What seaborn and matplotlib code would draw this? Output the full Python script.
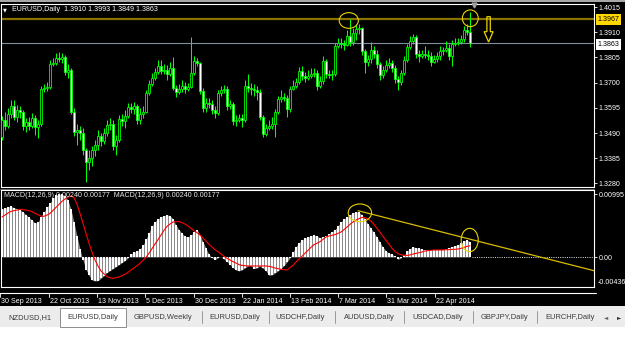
import numpy as np
import pandas as pd
import matplotlib
matplotlib.use("Agg")
import matplotlib.pyplot as plt
import seaborn as sns
from matplotlib.patches import Rectangle, Ellipse, Polygon
from matplotlib.lines import Line2D
from matplotlib.transforms import blended_transform_factory

# ---------------- data ----------------
symbol = "EURUSD"
timeframe = "Daily"
last_ohlc = [1.3910, 1.3993, 1.3849, 1.3863]

opens = [1.3473, 1.3544, 1.3519, 1.3569, 1.3603, 1.3557, 1.3586, 1.3578, 1.3519, 1.3536,
         1.3519, 1.3553, 1.3515, 1.3528, 1.3673, 1.3678, 1.3682, 1.3778, 1.3782, 1.3803,
         1.3798, 1.3807, 1.3744, 1.3753, 1.3578, 1.3494, 1.3503, 1.3490, 1.3419, 1.3369,
         1.3386, 1.3419, 1.3440, 1.3478, 1.3457, 1.3490, 1.3523, 1.3528, 1.3436, 1.3461,
         1.3548, 1.3540, 1.3561, 1.3598, 1.3590, 1.3603, 1.3544, 1.3569, 1.3578, 1.3657,
         1.3694, 1.3719, 1.3744, 1.3769, 1.3748, 1.3753, 1.3736, 1.3761, 1.3678, 1.3661,
         1.3673, 1.3686, 1.3673, 1.3682, 1.3740, 1.3790, 1.3782, 1.3665, 1.3594, 1.3615,
         1.3611, 1.3586, 1.3573, 1.3657, 1.3669, 1.3673, 1.3603, 1.3611, 1.3540, 1.3544,
         1.3553, 1.3544, 1.3686, 1.3678, 1.3673, 1.3669, 1.3661, 1.3557, 1.3486, 1.3511,
         1.3519, 1.3528, 1.3578, 1.3632, 1.3640, 1.3636, 1.3590, 1.3673, 1.3686, 1.3703,
         1.3748, 1.3728, 1.3719, 1.3728, 1.3736, 1.3740, 1.3686, 1.3707, 1.3790, 1.3736,
         1.3732, 1.3736, 1.3853, 1.3865, 1.3861, 1.3857, 1.3894, 1.3869, 1.3907, 1.3923,
         1.3928, 1.3832, 1.3786, 1.3798, 1.3836, 1.3819, 1.3778, 1.3732, 1.3753, 1.3773,
         1.3782, 1.3761, 1.3715, 1.3703, 1.3740, 1.3794, 1.3848, 1.3873, 1.3890, 1.3819,
         1.3811, 1.3819, 1.3815, 1.3811, 1.3786, 1.3798, 1.3811, 1.3832, 1.3836, 1.3844,
         1.3811, 1.3861, 1.3865, 1.3869, 1.3882, 1.3919, 1.3910]

highs = [1.3561, 1.3578, 1.3594, 1.3628, 1.3628, 1.3607, 1.3603, 1.3586, 1.3553, 1.3557,
         1.3573, 1.3565, 1.3544, 1.3686, 1.3694, 1.3703, 1.3794, 1.3803, 1.3823, 1.3828,
         1.3823, 1.3815, 1.3778, 1.3761, 1.3594, 1.3528, 1.3519, 1.3511, 1.3428, 1.3419,
         1.3436, 1.3461, 1.3503, 1.3490, 1.3511, 1.3544, 1.3553, 1.3544, 1.3482, 1.3565,
         1.3569, 1.3586, 1.3615, 1.3615, 1.3619, 1.3611, 1.3594, 1.3603, 1.3669, 1.3711,
         1.3740, 1.3761, 1.3794, 1.3794, 1.3778, 1.3773, 1.3786, 1.3807, 1.3690, 1.3694,
         1.3711, 1.3703, 1.3698, 1.3890, 1.3811, 1.3803, 1.3786, 1.3678, 1.3636, 1.3636,
         1.3628, 1.3603, 1.3669, 1.3686, 1.3690, 1.3686, 1.3628, 1.3619, 1.3565, 1.3569,
         1.3569, 1.3711, 1.3736, 1.3698, 1.3694, 1.3686, 1.3673, 1.3565, 1.3528, 1.3544,
         1.3557, 1.3590, 1.3644, 1.3669, 1.3657, 1.3648, 1.3686, 1.3711, 1.3719, 1.3765,
         1.3769, 1.3744, 1.3753, 1.3761, 1.3761, 1.3753, 1.3728, 1.3811, 1.3798, 1.3753,
         1.3753, 1.3865, 1.3886, 1.3886, 1.3878, 1.3919, 1.3967, 1.3928, 1.3944, 1.3944,
         1.3932, 1.3840, 1.3815, 1.3869, 1.3853, 1.3836, 1.3786, 1.3769, 1.3794, 1.3803,
         1.3794, 1.3773, 1.3728, 1.3753, 1.3811, 1.3861, 1.3894, 1.3903, 1.3898, 1.3836,
         1.3836, 1.3853, 1.3836, 1.3828, 1.3815, 1.3828, 1.3853, 1.3848, 1.3873, 1.3861,
         1.3878, 1.3886, 1.3886, 1.3898, 1.3936, 1.3944, 1.3993]

lows = [1.3461, 1.3503, 1.3511, 1.3553, 1.3544, 1.3536, 1.3553, 1.3503, 1.3494, 1.3503,
        1.3511, 1.3482, 1.3469, 1.3519, 1.3661, 1.3665, 1.3673, 1.3769, 1.3773, 1.3786,
        1.3782, 1.3732, 1.3719, 1.3569, 1.3478, 1.3440, 1.3461, 1.3398, 1.3286, 1.3336,
        1.3353, 1.3394, 1.3419, 1.3436, 1.3444, 1.3478, 1.3503, 1.3419, 1.3398, 1.3453,
        1.3519, 1.3511, 1.3553, 1.3573, 1.3569, 1.3528, 1.3528, 1.3553, 1.3573, 1.3648,
        1.3686, 1.3711, 1.3736, 1.3736, 1.3736, 1.3711, 1.3728, 1.3669, 1.3640, 1.3653,
        1.3661, 1.3657, 1.3665, 1.3678, 1.3732, 1.3769, 1.3653, 1.3578, 1.3578, 1.3594,
        1.3569, 1.3553, 1.3565, 1.3644, 1.3657, 1.3586, 1.3590, 1.3523, 1.3519, 1.3536,
        1.3515, 1.3536, 1.3661, 1.3648, 1.3644, 1.3628, 1.3544, 1.3473, 1.3478, 1.3503,
        1.3507, 1.3473, 1.3569, 1.3619, 1.3623, 1.3557, 1.3578, 1.3669, 1.3678, 1.3694,
        1.3711, 1.3703, 1.3711, 1.3719, 1.3723, 1.3669, 1.3678, 1.3694, 1.3719, 1.3719,
        1.3711, 1.3728, 1.3844, 1.3844, 1.3836, 1.3853, 1.3853, 1.3857, 1.3878, 1.3903,
        1.3815, 1.3740, 1.3769, 1.3782, 1.3803, 1.3761, 1.3711, 1.3719, 1.3744, 1.3761,
        1.3744, 1.3698, 1.3669, 1.3690, 1.3732, 1.3786, 1.3840, 1.3861, 1.3803, 1.3786,
        1.3803, 1.3803, 1.3794, 1.3769, 1.3782, 1.3786, 1.3794, 1.3815, 1.3828, 1.3794,
        1.3769, 1.3853, 1.3857, 1.3861, 1.3869, 1.3898, 1.3849]

closes = [1.3544, 1.3519, 1.3569, 1.3603, 1.3557, 1.3586, 1.3578, 1.3519, 1.3536, 1.3519,
          1.3553, 1.3515, 1.3528, 1.3673, 1.3678, 1.3682, 1.3778, 1.3782, 1.3803, 1.3798,
          1.3807, 1.3744, 1.3753, 1.3578, 1.3494, 1.3503, 1.3490, 1.3419, 1.3369, 1.3386,
          1.3419, 1.3440, 1.3478, 1.3457, 1.3490, 1.3523, 1.3528, 1.3436, 1.3461, 1.3548,
          1.3540, 1.3561, 1.3598, 1.3590, 1.3603, 1.3544, 1.3569, 1.3578, 1.3657, 1.3694,
          1.3719, 1.3744, 1.3769, 1.3748, 1.3753, 1.3736, 1.3761, 1.3678, 1.3661, 1.3673,
          1.3686, 1.3673, 1.3682, 1.3740, 1.3790, 1.3782, 1.3665, 1.3594, 1.3615, 1.3611,
          1.3586, 1.3573, 1.3657, 1.3669, 1.3673, 1.3603, 1.3611, 1.3540, 1.3544, 1.3553,
          1.3544, 1.3686, 1.3678, 1.3673, 1.3669, 1.3661, 1.3557, 1.3486, 1.3511, 1.3519,
          1.3528, 1.3578, 1.3632, 1.3640, 1.3636, 1.3590, 1.3673, 1.3686, 1.3703, 1.3748,
          1.3728, 1.3719, 1.3728, 1.3736, 1.3740, 1.3686, 1.3707, 1.3790, 1.3736, 1.3732,
          1.3736, 1.3853, 1.3865, 1.3861, 1.3857, 1.3894, 1.3869, 1.3907, 1.3923, 1.3928,
          1.3832, 1.3786, 1.3798, 1.3836, 1.3819, 1.3778, 1.3732, 1.3753, 1.3773, 1.3782,
          1.3761, 1.3715, 1.3703, 1.3740, 1.3794, 1.3848, 1.3873, 1.3890, 1.3819, 1.3811,
          1.3819, 1.3815, 1.3811, 1.3786, 1.3798, 1.3811, 1.3832, 1.3836, 1.3844, 1.3811,
          1.3861, 1.3865, 1.3869, 1.3882, 1.3919, 1.3910, 1.3863]

macd_main = [0.00758, 0.00774, 0.00795, 0.00800, 0.00779, 0.00763, 0.00747, 0.00710, 0.00668, 0.00626,
             0.00584, 0.00537, 0.00553, 0.00637, 0.00710, 0.00784, 0.00853, 0.00926, 0.00974, 0.00995,
             0.00990, 0.00968, 0.00895, 0.00753, 0.00547, 0.00332, 0.00126, -0.00053, -0.00200, -0.00289,
             -0.00363, -0.00379, -0.00374, -0.00337, -0.00295, -0.00247, -0.00216, -0.00184, -0.00153, -0.00121,
             -0.00089, -0.00058, -0.00016, 0.00047, 0.00074, 0.00095, 0.00126, 0.00184, 0.00279, 0.00384,
             0.00489, 0.00558, 0.00600, 0.00637, 0.00653, 0.00668, 0.00653, 0.00600, 0.00505, 0.00432,
             0.00374, 0.00326, 0.00316, 0.00347, 0.00389, 0.00426, 0.00353, 0.00242, 0.00137, 0.00042,
             -0.00011, -0.00042, -0.00011, 0.00000, -0.00032, -0.00074, -0.00121, -0.00168, -0.00205, -0.00221,
             -0.00205, -0.00174, -0.00142, -0.00137, -0.00184, -0.00174, -0.00147, -0.00179, -0.00221, -0.00289,
             -0.00284, -0.00253, -0.00221, -0.00184, -0.00137, -0.00079, -0.00016, 0.00079, 0.00163, 0.00226,
             0.00268, 0.00300, 0.00316, 0.00332, 0.00347, 0.00332, 0.00300, 0.00316, 0.00332, 0.00368,
             0.00400, 0.00432, 0.00495, 0.00553, 0.00600, 0.00637, 0.00668, 0.00695, 0.00716, 0.00710,
             0.00663, 0.00600, 0.00521, 0.00453, 0.00389, 0.00311, 0.00232, 0.00153, 0.00100, 0.00058,
             0.00042, 0.00011, -0.00037, -0.00016, 0.00026, 0.00089, 0.00132, 0.00163, 0.00147, 0.00137,
             0.00121, 0.00116, 0.00116, 0.00116, 0.00116, 0.00116, 0.00116, 0.00116, 0.00132, 0.00147,
             0.00163, 0.00179, 0.00195, 0.00221, 0.00253, 0.00268, 0.00240]

macd_signal = [0.00632, 0.00663, 0.00695, 0.00721, 0.00732, 0.00742, 0.00753, 0.00747, 0.00742, 0.00732,
               0.00716, 0.00689, 0.00668, 0.00647, 0.00642, 0.00663, 0.00689, 0.00737, 0.00784, 0.00832,
               0.00879, 0.00916, 0.00947, 0.00963, 0.00937, 0.00832, 0.00689, 0.00532, 0.00374, 0.00216,
               0.00079, -0.00047, -0.00142, -0.00221, -0.00268, -0.00311, -0.00326, -0.00337, -0.00326, -0.00316,
               -0.00295, -0.00274, -0.00242, -0.00205, -0.00174, -0.00137, -0.00100, -0.00053, -0.00005, 0.00058,
               0.00132, 0.00205, 0.00274, 0.00347, 0.00421, 0.00484, 0.00521, 0.00553, 0.00558, 0.00558,
               0.00542, 0.00521, 0.00489, 0.00453, 0.00416, 0.00384, 0.00347, 0.00300, 0.00253, 0.00200,
               0.00158, 0.00116, 0.00084, 0.00047, 0.00011, -0.00021, -0.00047, -0.00074, -0.00095, -0.00121,
               -0.00132, -0.00137, -0.00142, -0.00142, -0.00142, -0.00142, -0.00142, -0.00142, -0.00142, -0.00147,
               -0.00158, -0.00174, -0.00184, -0.00195, -0.00200, -0.00205, -0.00168, -0.00132, -0.00079, -0.00032,
               0.00011, 0.00058, 0.00105, 0.00153, 0.00195, 0.00216, 0.00242, 0.00279, 0.00316, 0.00332,
               0.00342, 0.00353, 0.00374, 0.00395, 0.00432, 0.00474, 0.00516, 0.00553, 0.00584, 0.00605,
               0.00626, 0.00621, 0.00600, 0.00568, 0.00516, 0.00453, 0.00389, 0.00326, 0.00263, 0.00200,
               0.00137, 0.00089, 0.00053, 0.00037, 0.00026, 0.00026, 0.00032, 0.00047, 0.00058, 0.00068,
               0.00079, 0.00095, 0.00100, 0.00105, 0.00111, 0.00111, 0.00111, 0.00111, 0.00116, 0.00116,
               0.00121, 0.00121, 0.00126, 0.00137, 0.00153, 0.00168, 0.00177]

macd_title = "MACD(12,26,9)"
price_ticks = [1.4015, 1.3910, 1.3805, 1.3700, 1.3595, 1.3490, 1.3385, 1.3280]
resistance_level = 1.3967
bid_level = 1.3863
macd_tick_labels = ["0.00995", "0.00", "-0.00436"]
date_labels = ["30 Sep 2013", "22 Oct 2013", "13 Nov 2013", "5 Dec 2013", "30 Dec 2013",
               "22 Jan 2014", "13 Feb 2014", "7 Mar 2014", "31 Mar 2014", "22 Apr 2014"]
date_tick_bars = [-0.67, 15.6, 31.67, 47.67, 64.0, 80.0, 96.0, 112.0, 128.0, 144.3]
tab_labels = ["NZDUSD,H1", "EURUSD,Daily", "GBPUSD,Weekly", "EURUSD,Daily", "USDCHF,Daily",
              "AUDUSD,Daily", "USDCAD,Daily", "GBPJPY,Daily", "EURCHF,Daily"]
# MACD trend line drawn on the chart: (bar, value) endpoints
trend_start = (118.7, 0.00731)
trend_end = (197.3, -0.00216)

# ---------------- style ----------------
sns.set_style("dark", {"axes.facecolor": "black", "figure.facecolor": "black"})
plt.rcParams["font.family"] = ["Liberation Sans", "DejaVu Sans"]
FS = 5.1
GREEN = "#00ff00"
YEL = "#e8d400"

W, H = 625, 346
fig = plt.figure(figsize=(W / 100, H / 100), dpi=100)
fig.patch.set_facecolor("black")


def fx(x):
    return x / W


def fy(y):
    return 1 - y / H


X_LEFT, X_RIGHT = 1, 594
xlim = ((X_LEFT - 2.0) / 3.0, (X_RIGHT - 2.0) / 3.0)


def price_at(y):
    return 1.4015 - (y - 7) / 2400.0


def macd_at(y):
    return (257 - y) / 6331.0


df = pd.DataFrame({"bar": np.arange(len(closes)), "open": opens, "high": highs,
                   "low": lows, "close": closes, "macd": macd_main, "signal": macd_signal})

# ---------------- price panel ----------------
ax1 = fig.add_axes([fx(X_LEFT), fy(187), (X_RIGHT - X_LEFT) / W, (187 - 4) / H])
ax1.set_facecolor("black")
ax1.set_xlim(*xlim)
ax1.set_ylim(price_at(187), price_at(4))
for s in ax1.spines.values():
    s.set_color("white")
    s.set_linewidth(0.8)
ax1.set_xticks([])
ax1.yaxis.tick_right()
ax1.set_yticks(price_ticks)
ax1.set_yticklabels([f"{v:.4f}" for v in price_ticks])
ax1.tick_params(axis="y", colors="white", labelsize=FS, length=2.2, width=0.6, pad=1.2)
ax1.grid(False)

ax1.axhline(resistance_level, color="#8a7200", lw=1.6, zorder=2)
ax1.axhline(bid_level, color="#7f8fa0", lw=0.8, zorder=2)

ax1.vlines(df.bar, df.low, df.high, color=GREEN, lw=0.75, zorder=3)
up = df.close >= df.open
body_bottom = np.minimum(df.open, df.close)
body_h = (df.close - df.open).abs()
ax1.bar(df.bar[up], body_h[up], bottom=body_bottom[up], width=0.72, color="black",
        edgecolor=GREEN, linewidth=0.6, zorder=4)
ax1.bar(df.bar[~up], body_h[~up], bottom=body_bottom[~up], width=0.72, color="white",
        edgecolor=GREEN, linewidth=0.6, zorder=4)

# annotations on the price panel
ax1.add_patch(Ellipse((115.6, 1.39588), 6.4, 0.00654, fill=False, edgecolor=YEL, lw=0.8, zorder=6))
ax1.add_patch(Ellipse((156.1, 1.39680), 5.3, 0.00696, fill=False, edgecolor=YEL, lw=0.8, zorder=6))
acx, sw, hw = 162.2, 0.57, 1.5
a_top, a_head, a_tip = 1.39746, 1.39121, 1.38692
ax1.add_patch(Polygon([(acx - sw, a_top), (acx + sw, a_top), (acx + sw, a_head), (acx + hw, a_head),
                       (acx, a_tip), (acx - hw, a_head), (acx - sw, a_head)],
                      closed=True, fill=False, edgecolor=YEL, lw=0.9, zorder=6))
ax1.plot([157.3], [price_at(5.2)], marker="v", color="#a0a0a0", markersize=3.5, clip_on=False, zorder=7)

# ---------------- MACD panel ----------------
ax2 = fig.add_axes([fx(X_LEFT), fy(287), (X_RIGHT - X_LEFT) / W, (287 - 190) / H])
ax2.set_facecolor("black")
ax2.set_xlim(*xlim)
ax2.set_ylim(macd_at(287), macd_at(190))
for s in ax2.spines.values():
    s.set_color("white")
    s.set_linewidth(0.8)
ax2.set_xticks([])
ax2.yaxis.tick_right()
ax2.set_yticks([0.00995, 0.0])
ax2.set_yticklabels(macd_tick_labels[:2])
ax2.tick_params(axis="y", colors="white", labelsize=FS, length=2.2, width=0.6, pad=1.2)
ax2.grid(False)

ax2.fill_between(df.bar, df.macd, 0, color="#8a8a8a", lw=0, zorder=2)
ax2.bar(df.bar, df.macd, width=0.45, color="white", lw=0, zorder=3)
sns.lineplot(x=df.bar, y=df.signal, ax=ax2, color="red", lw=0.8, zorder=4)
ax2.set_xlabel("")
ax2.set_ylabel("")
ax2.hlines(0, df.bar.iloc[-1] + 0.5, xlim[1], colors="white", linestyles=(0, (1.2, 1.5)), lw=0.6, zorder=3)
ax2.plot([trend_start[0], trend_end[0]], [trend_start[1], trend_end[1]], color="#d8bc00", lw=0.9,
         zorder=5, clip_on=False)
ax2.add_patch(Ellipse((119.3, 0.00698), 7.8, 0.00280, fill=False, edgecolor=YEL, lw=0.8, zorder=6))
ax2.add_patch(Ellipse((155.9, 0.00269), 5.7, 0.00368, fill=False, edgecolor=YEL, lw=0.8, zorder=6))

fig.text(fx(598), fy(282), macd_tick_labels[2], color="white", fontsize=FS, va="center", ha="left")
fig.text(fx(4), fy(195.5), f"{macd_title} {macd_main[-1]:.5f} {macd_signal[-1]:.5f}  "
         f"{macd_title} {macd_main[-1]:.5f} {macd_signal[-1]:.5f}",
         color="#e8e8e8", fontsize=FS, va="center", ha="left", zorder=10)

# ---------------- title / highlighted price labels ----------------
fig.text(fx(2.5), fy(9.5), "\u25bc", color="white", fontsize=3.6, va="center", ha="left",
         family=["DejaVu Sans"])
fig.text(fx(12), fy(9.2), f"{symbol},{timeframe}  " + " ".join(f"{v:.4f}" for v in last_ohlc),
         color="white", fontsize=FS, va="center", ha="left")

fig.add_artist(Rectangle((fx(596), fy(24.5)), 25 / W, 10.5 / H, transform=fig.transFigure,
                         facecolor="#ffd800", edgecolor="none", zorder=5))
fig.text(fx(598), fy(19.3), f"{resistance_level:.4f}", color="black", fontsize=FS, va="center",
         ha="left", zorder=6)
fig.add_artist(Rectangle((fx(596), fy(49.5)), 25 / W, 10.5 / H, transform=fig.transFigure,
                         facecolor="white", edgecolor="none", zorder=5))
fig.text(fx(598), fy(44.3), f"{bid_level:.4f}", color="black", fontsize=FS, va="center",
         ha="left", zorder=6)

# ---------------- frame pieces ----------------
fig.add_artist(Rectangle((0, fy(2)), 1, 2 / H, transform=fig.transFigure, facecolor="#a8a8a8",
                         edgecolor="none"))
fig.add_artist(Line2D([0, fx(X_RIGHT)], [fy(188.5), fy(188.5)], transform=fig.transFigure,
                      color="#808080", lw=0.6))
fig.add_artist(Line2D([0, fx(596)], [fy(293), fy(293)], transform=fig.transFigure,
                      color="white", lw=0.8))

# date axis
bt = blended_transform_factory(ax2.transData, fig.transFigure)
for lab, b in zip(date_labels, date_tick_bars):
    fig.add_artist(Line2D([b, b], [fy(293), fy(296.5)], transform=bt, color="white", lw=0.6))
    fig.text(0, fy(301.5), lab, transform=bt, color="white", fontsize=FS, va="center", ha="left")
    fig.texts[-1].set_x(b + 0.3)

# tab bar
fig.add_artist(Rectangle((0, fy(327)), 1, 21 / H, transform=fig.transFigure, facecolor="#ececec",
                         edgecolor="none"))
fig.add_artist(Rectangle((0, 0), 1, fy(327), transform=fig.transFigure, facecolor="white",
                         edgecolor="none"))
fig.add_artist(Rectangle((fx(60), fy(327)), 66 / W, 19 / H, transform=fig.transFigure,
                         facecolor="white", edgecolor="#7a7a7a", lw=0.6))
for xs in [202, 269, 335, 404, 473, 537]:
    fig.add_artist(Line2D([fx(xs), fx(xs)], [fy(311), fy(323)], transform=fig.transFigure,
                          color="#8a8a8a", lw=0.6))
tab_x = [8, 67, 134, 209, 275, 344, 412, 481, 545]
for lab, xx in zip(tab_labels, tab_x):
    fig.text(fx(xx), fy(317.5), lab, color="#3a3a3a", fontsize=5.4, va="center", ha="left")
fig.text(fx(604), fy(317.5), "\u25c4", color="#606060", fontsize=4, va="center", ha="left",
         family=["DejaVu Sans"])
fig.text(fx(617), fy(317.5), "\u25ba", color="#303030", fontsize=4, va="center", ha="left",
         family=["DejaVu Sans"])

fig.savefig("out.png", dpi=100, facecolor=fig.get_facecolor())
